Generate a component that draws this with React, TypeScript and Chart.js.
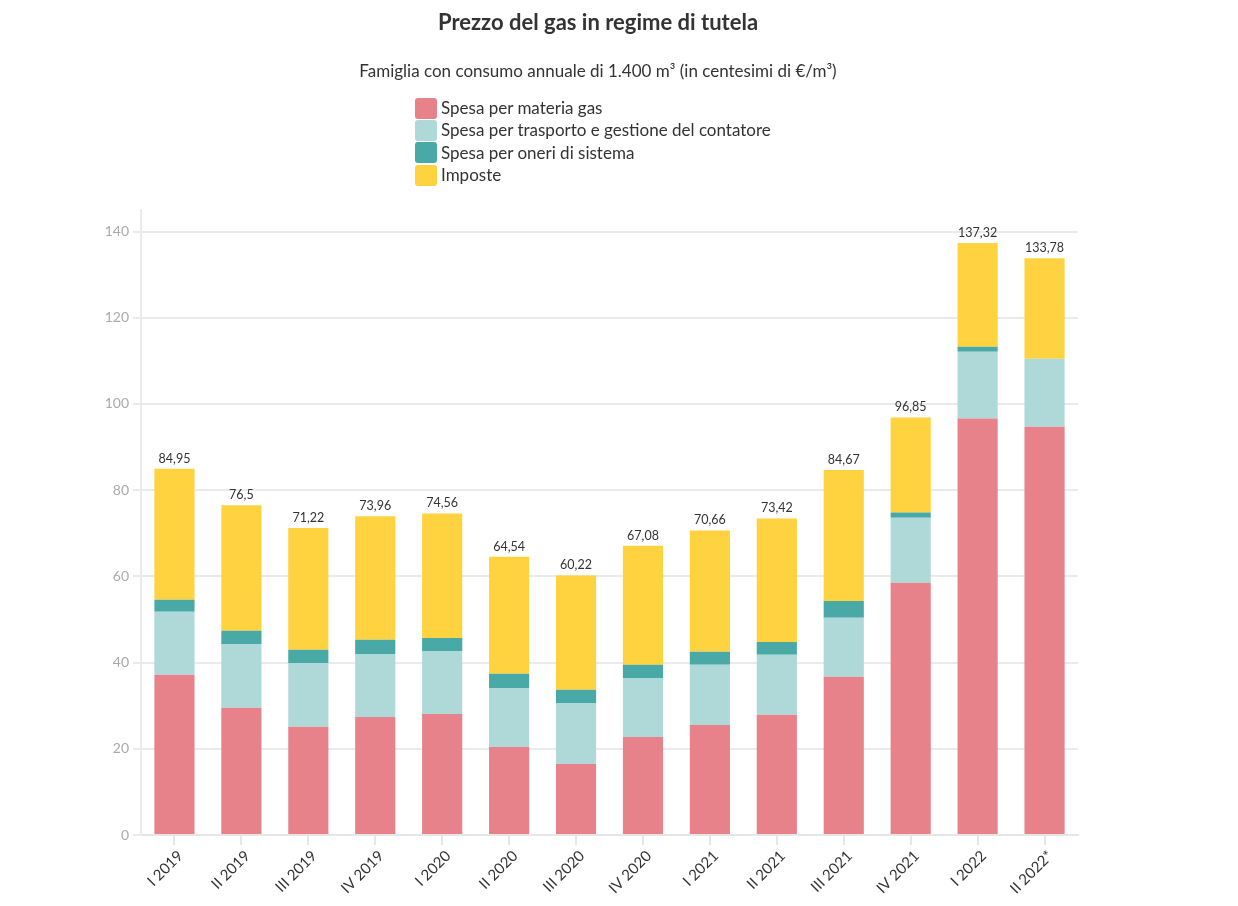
import React, { useEffect, useRef } from "react";
import { Chart, registerables } from "chart.js";

Chart.register(...registerables);

const FONT = "Lato, 'Noto Sans', sans-serif";

const categories = [
  "I 2019", "II 2019", "III 2019", "IV 2019",
  "I 2020", "II 2020", "III 2020", "IV 2020",
  "I 2021", "II 2021", "III 2021", "IV 2021",
  "I 2022", "II 2022*",
];

const materiaGas = [37.15, 29.5, 25.1, 27.4, 28.1, 20.4, 16.5, 22.75, 25.5, 27.9, 36.7, 58.5, 96.6, 94.7];
const trasporto = [14.65, 14.8, 14.8, 14.6, 14.6, 13.7, 14.1, 13.7, 14.0, 13.9, 13.7, 15.1, 15.5, 15.8];
const oneri = [2.8, 3.1, 3.05, 3.3, 3.0, 3.3, 3.1, 3.05, 3.0, 3.0, 3.9, 1.2, 1.2, 0];
const imposte = [30.35, 29.1, 28.27, 28.66, 28.86, 27.14, 26.52, 27.58, 28.16, 28.62, 30.37, 22.05, 24.02, 23.28];
const totalLabels = ["84,95", "76,5", "71,22", "73,96", "74,56", "64,54", "60,22", "67,08", "70,66", "73,42", "84,67", "96,85", "137,32", "133,78"];

const seriesNames = [
  "Spesa per materia gas",
  "Spesa per trasporto e gestione del contatore",
  "Spesa per oneri di sistema",
  "Imposte",
];
const seriesColors = ["#e7828b", "#aed9d8", "#48a9a6", "#ffd23f"];

const yTicks = [0, 20, 40, 60, 80, 100, 120, 140];

const totalsPlugin = {
  id: "totals",
  afterDatasetsDraw(chart: any) {
    const ctx = chart.ctx;
    const last = chart.data.datasets.length - 1;
    const meta = chart.getDatasetMeta(last);
    ctx.save();
    ctx.font = `12.5px ${FONT}`;
    ctx.fillStyle = "#333333";
    ctx.textAlign = "center";
    ctx.textBaseline = "bottom";
    meta.data.forEach((el: any, i: number) => {
      ctx.fillText(totalLabels[i], el.x, el.y - 4);
    });
    ctx.restore();
  },
};

export default function App() {
  const ref = useRef<HTMLCanvasElement>(null);

  useEffect(() => {
    if (!ref.current) return;
    const values = [materiaGas, trasporto, oneri, imposte];
    const chart = new Chart(ref.current, {
      type: "bar",
      data: {
        labels: categories,
        datasets: values.map((v, i) => ({
          label: seriesNames[i],
          data: v,
          backgroundColor: seriesColors[i],
          borderWidth: 0,
          barPercentage: 0.6,
          categoryPercentage: 1,
        })),
      },
      options: {
        animation: false,
        responsive: false,
        maintainAspectRatio: false,
        layout: { padding: { top: 202, right: 110, bottom: 0, left: 0 } },
        plugins: {
          legend: { display: false },
          title: { display: false },
          tooltip: { enabled: false },
        },
        scales: {
          x: {
            stacked: true,
            grid: {
              display: true,
              offset: false,
              drawOnChartArea: false,
              drawTicks: true,
              tickLength: 10,
              color: "#e6e6e6",
              lineWidth: 2,
            },
            border: { display: true, color: "#e6e6e6", width: 2 },
            ticks: {
              color: "#333333",
              font: { family: FONT, size: 15 },
              maxRotation: 45,
              minRotation: 45,
              padding: 2,
              labelOffset: 6,
              autoSkip: false,
            },
            afterFit(scale: any) {
              scale.height = 63;
            },
          },
          y: {
            stacked: true,
            min: 0,
            max: 145,
            afterBuildTicks(scale: any) {
              scale.ticks = yTicks.map((v) => ({ value: v }));
            },
            grid: {
              color: "#ebebeb",
              lineWidth: 2,
              tickLength: 8,
            },
            border: { display: true, color: "#ebebeb", width: 2 },
            ticks: {
              color: "#aaaaaa",
              font: { family: FONT, size: 14 },
              padding: 4,
            },
            afterFit(scale: any) {
              scale.width = 133;
            },
          },
        },
      },
      plugins: [totalsPlugin],
    });
    return () => chart.destroy();
  }, []);

  return (
    <div style={{ position: "relative", width: 1180, height: 890, fontFamily: FONT, color: "#333333" }}>
      <canvas ref={ref} width={1180} height={890} style={{ position: "absolute", left: 0, top: 0 }} />
      <div
        style={{
          position: "absolute",
          left: 0,
          top: 1,
          width: 1180,
          textAlign: "center",
          fontSize: 22,
          lineHeight: "26px",
          fontWeight: 700,
        }}
      >
        Prezzo del gas in regime di tutela
      </div>
      <div
        style={{
          position: "absolute",
          left: 0,
          top: 52,
          width: 1180,
          textAlign: "center",
          fontSize: 17,
          lineHeight: "22px",
        }}
      >
        Famiglia con consumo annuale di 1.400 m³ (in centesimi di €/m³)
      </div>
      <div style={{ position: "absolute", left: 407, top: 89 }}>
        {seriesNames.map((name, i) => (
          <div key={name} style={{ display: "flex", alignItems: "center", height: 22.3 }}>
            <span
              style={{
                display: "inline-block",
                width: 22,
                height: 21,
                borderRadius: 3,
                background: seriesColors[i],
                marginRight: 4,
              }}
            />
            <span style={{ fontSize: 17, lineHeight: "20px" }}>{name}</span>
          </div>
        ))}
      </div>
    </div>
  );
}
